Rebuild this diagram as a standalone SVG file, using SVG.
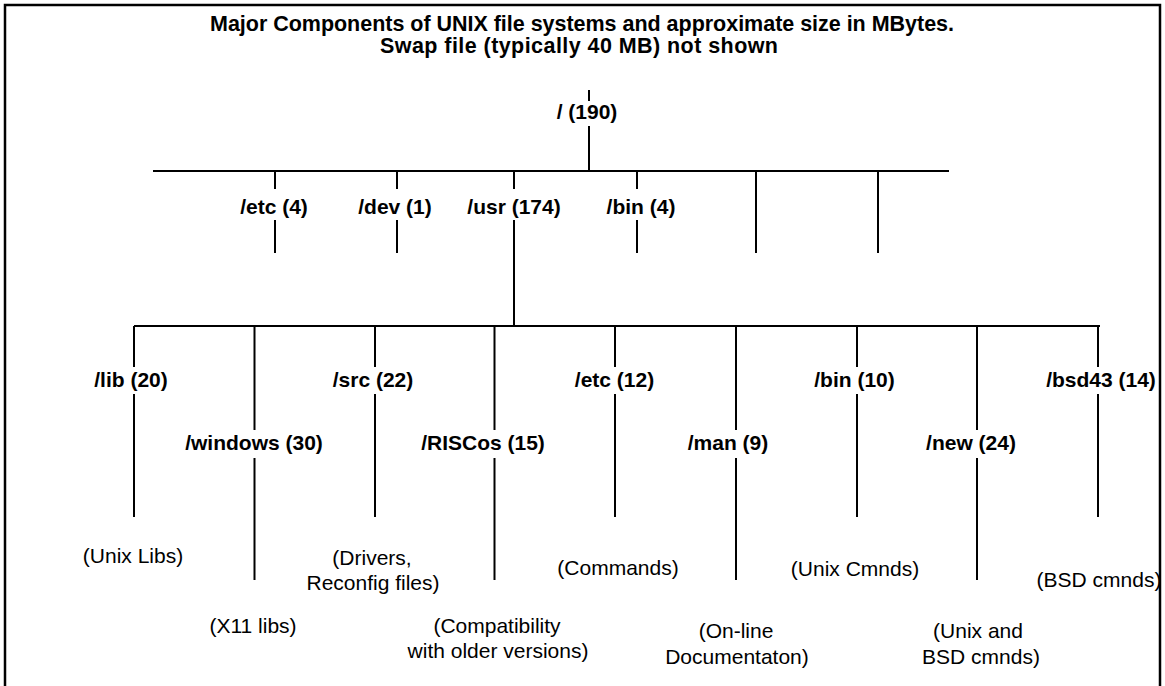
<svg xmlns="http://www.w3.org/2000/svg" width="1165" height="686" viewBox="0 0 1165 686">
<style>
.t{font-family:"Liberation Sans",Arial,Helvetica,sans-serif;font-size:21.5px;font-weight:bold;text-anchor:middle;fill:#000}
.b{font-family:"Liberation Sans",Arial,Helvetica,sans-serif;font-size:21px;font-weight:bold;text-anchor:middle;fill:#000}
.d{font-family:"Liberation Sans",Arial,Helvetica,sans-serif;font-size:21px;font-weight:normal;text-anchor:middle;fill:#000}
.ln{stroke:#000;stroke-width:2;fill:none}
</style>
<rect width="1165" height="686" fill="#fff"/>
<path d="M5 686 V5 H1160 V686" fill="none" stroke="#000" stroke-width="2.5"/>
<g id="title">
<text class="t" x="582" y="31" textLength="744" lengthAdjust="spacing">Major Components of UNIX file systems and approximate size in MBytes.</text>
<text class="t" x="579" y="53" textLength="398" lengthAdjust="spacing">Swap file (typically 40 MB) not shown</text>
</g>
<g id="connectors" class="ln">
<path d="M589 90 V101 M589 126 V171"/>
<path d="M153 171 H949"/>
<path d="M275 171 V189 M275 220 V253"/>
<path d="M397 171 V189 M397 220 V253"/>
<path d="M514 171 V189 M514 220 V326"/>
<path d="M637 171 V189 M637 220 V253"/>
<path d="M756 171 V253"/>
<path d="M878 171 V253"/>
<path d="M134 326 H1100"/>
<path d="M134 326 V367 M134 394 V517"/>
<path d="M375 326 V367 M375 394 V517"/>
<path d="M615 326 V367 M615 394 V517"/>
<path d="M857 326 V367 M857 394 V517"/>
<path d="M1098 326 V367 M1098 394 V517"/>
<path d="M254.5 326 V430 M254.5 458 V580"/>
<path d="M494.5 326 V430 M494.5 458 V580"/>
<path d="M736 326 V430 M736 458 V580"/>
<path d="M977 326 V430 M977 458 V580"/>
</g>
<g id="root"><text class="b" x="587" y="119">/ (190)</text></g>
<g id="etc4"><text class="b" x="274" y="214">/etc (4)</text></g>
<g id="dev1"><text class="b" x="395" y="214">/dev (1)</text></g>
<g id="usr174"><text class="b" x="514" y="214">/usr (174)</text></g>
<g id="bin4"><text class="b" x="641" y="214">/bin (4)</text></g>
<g id="lib20">
<text class="b" x="131" y="387">/lib (20)</text>
<text class="d" x="133" y="563">(Unix Libs)</text>
</g>
<g id="windows30">
<text class="b" x="254" y="450">/windows (30)</text>
<text class="d" x="253" y="633">(X11 libs)</text>
</g>
<g id="src22">
<text class="b" x="373" y="387">/src (22)</text>
<text class="d" x="372" y="565">(Drivers,</text>
<text class="d" x="373" y="590">Reconfig files)</text>
</g>
<g id="riscos15">
<text class="b" x="483" y="450">/RISCos (15)</text>
<text class="d" x="497" y="633">(Compatibility</text>
<text class="d" x="498" y="658">with older versions)</text>
</g>
<g id="etc12">
<text class="b" x="614.5" y="387">/etc (12)</text>
<text class="d" x="618" y="575">(Commands)</text>
</g>
<g id="man9">
<text class="b" x="728" y="450">/man (9)</text>
<text class="d" x="736" y="638">(On-line</text>
<text class="d" x="737" y="664">Documentaton)</text>
</g>
<g id="bin10">
<text class="b" x="854.5" y="387">/bin (10)</text>
<text class="d" x="855" y="576">(Unix Cmnds)</text>
</g>
<g id="new24">
<text class="b" x="971" y="450">/new (24)</text>
<text class="d" x="978" y="638">(Unix and</text>
<text class="d" x="981" y="664">BSD cmnds)</text>
</g>
<g id="bsd43">
<text class="b" x="1101" y="387">/bsd43 (14)</text>
<text class="d" x="1099" y="587">(BSD cmnds)</text>
</g>
</svg>
